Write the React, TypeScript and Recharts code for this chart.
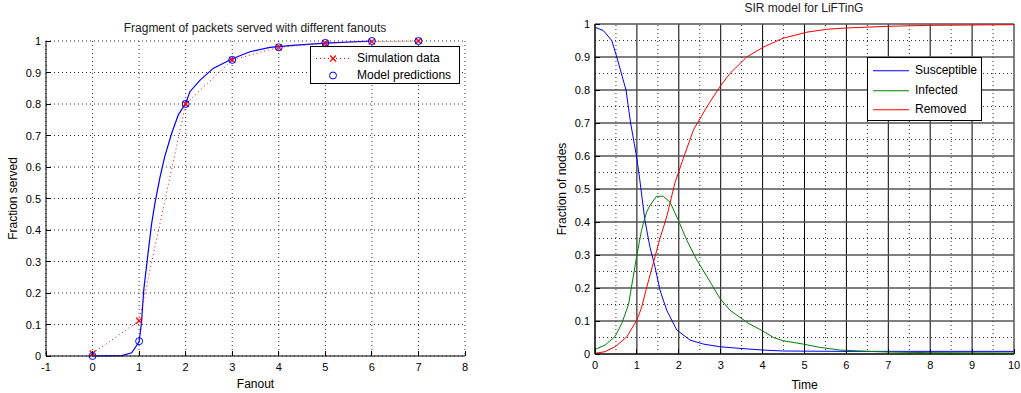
import { LineChart, Line, XAxis, YAxis, CartesianGrid, ReferenceLine, Legend } from 'recharts';

// left panel: fraction served vs fanout
const fanoutTicks = [-1, 0, 1, 2, 3, 4, 5, 6, 7, 8];
const servedTicks = [0, 0.1, 0.2, 0.3, 0.4, 0.5, 0.6, 0.7, 0.8, 0.9, 1];
const fanouts = [0, 1, 2, 3, 4, 5, 6, 7];
const simulationServed = [0.008, 0.112, 0.8, 0.94, 0.98, 0.993, 0.998, 1.0];
const modelServed = [0.0, 0.047, 0.8, 0.94, 0.98, 0.994, 1.0, 1.0];
const modelCurveFanout = [0, 0.63, 0.84, 1.0, 1.05, 1.1, 1.2, 1.27, 1.34, 1.45, 1.55, 1.7, 1.84, 2.0, 2.09, 2.31, 2.59, 2.99, 3.38, 3.81, 4.3, 5.0, 6.0];
const modelCurveServed = [0, 0.001, 0.01, 0.045, 0.104, 0.21, 0.336, 0.421, 0.485, 0.569, 0.633, 0.707, 0.765, 0.802, 0.839, 0.876, 0.913, 0.943, 0.966, 0.98, 0.986, 0.993, 1.0];

// right panel: SIR model
const timeTicks = [0, 1, 2, 3, 4, 5, 6, 7, 8, 9, 10];
const nodeTicks = [0, 0.1, 0.2, 0.3, 0.4, 0.5, 0.6, 0.7, 0.8, 0.9, 1];
const minorTimeTicks = [0.5, 1.5, 2.5, 3.5, 4.5, 5.5, 6.5, 7.5, 8.5, 9.5];
const minorNodeTicks = [0.05, 0.15, 0.25, 0.35, 0.45, 0.55, 0.65, 0.75, 0.85, 0.95];

const susceptibleTime = [0, 0.2, 0.4, 0.52, 0.74, 0.85, 0.99, 1.07, 1.19, 1.31, 1.43, 1.55, 1.71, 1.95, 2.27, 2.59, 2.98, 3.46, 4.0, 4.5, 6, 10];
const susceptible = [0.99, 0.98, 0.95, 0.9, 0.8, 0.7, 0.6, 0.527, 0.406, 0.325, 0.265, 0.194, 0.133, 0.073, 0.042, 0.03, 0.022, 0.017, 0.012, 0.009, 0.008, 0.008];
const infectedTime = [0, 0.24, 0.48, 0.64, 0.8, 1.0, 1.11, 1.23, 1.31, 1.47, 1.63, 1.79, 1.99, 2.19, 2.43, 2.67, 2.98, 3.22, 3.66, 4.0, 4.26, 4.5, 4.97, 5.37, 5.85, 6.5, 7, 8, 10];
const infected = [0.014, 0.027, 0.053, 0.093, 0.15, 0.3, 0.375, 0.43, 0.45, 0.478, 0.478, 0.46, 0.405, 0.345, 0.285, 0.235, 0.169, 0.133, 0.093, 0.07, 0.05, 0.04, 0.03, 0.02, 0.012, 0.008, 0.006, 0.004, 0.003];
const removedTime = [0, 0.24, 0.48, 0.76, 1.0, 1.11, 1.23, 1.39, 1.55, 1.71, 1.91, 2.15, 2.35, 2.67, 2.98, 3.22, 3.62, 4.02, 4.49, 5.05, 5.53, 6.0, 7, 8, 10];
const removed = [0.002, 0.007, 0.022, 0.052, 0.103, 0.14, 0.2, 0.275, 0.35, 0.415, 0.52, 0.608, 0.679, 0.749, 0.81, 0.85, 0.9, 0.93, 0.957, 0.975, 0.984, 0.988, 0.993, 0.996, 0.998];

const zip = (xs: number[], ys: number[]) => xs.map((x, i) => ({ x, y: ys[i] }));

const FONT = '"Liberation Sans", Arial, sans-serif';

const BottomTick = ({ x, y, payload }: any) => (
    <g>
        <line x1={x} y1={y} x2={x} y2={y - 5} stroke="#000" shapeRendering="crispEdges" />
        <text x={x} y={y + 15} textAnchor="middle" fontSize={11} fill="#000">{payload.value}</text>
    </g>
);
const LeftTick = ({ x, y, payload }: any) => (
    <g>
        <line x1={x} y1={y} x2={x + 5} y2={y} stroke="#000" shapeRendering="crispEdges" />
        <text x={x - 5} y={y + 4} textAnchor="end" fontSize={11} fill="#000">{payload.value}</text>
    </g>
);
const TopTick = ({ x, y }: any) => (
    <line x1={x} y1={y} x2={x} y2={y + 5} stroke="#000" shapeRendering="crispEdges" />
);
const RightTick = ({ x, y }: any) => (
    <line x1={x} y1={y} x2={x - 5} y2={y} stroke="#000" shapeRendering="crispEdges" />
);

const XMark = ({ cx, cy, color }: { cx: number; cy: number; color: string }) => (
    <g stroke={color} strokeWidth={1.2}>
        <line x1={cx - 3} y1={cy - 3} x2={cx + 3} y2={cy + 3} />
        <line x1={cx - 3} y1={cy + 3} x2={cx + 3} y2={cy - 3} />
    </g>
);

const xLabel = (text: string, dy: number) => ({
    content: ({ viewBox }: any) => (
        <text x={viewBox.x + viewBox.width / 2} y={viewBox.y + dy} textAnchor="middle" fontSize={12} fill="#000">{text}</text>
    ),
});
const yLabel = (text: string, x: number) => ({
    content: ({ viewBox }: any) => {
        const cy = viewBox.y + viewBox.height / 2;
        return (
            <text x={x} y={cy} transform={`rotate(-90 ${x} ${cy})`} textAnchor="middle" fontSize={12} fill="#000">{text}</text>
        );
    },
});

type LegendItem = { name: string; color: string; dash?: string; marker?: 'x' | 'o'; line: boolean };

const fanoutLegend: LegendItem[] = [
    { name: 'Simulation data', color: '#ff0000', dash: '1 3', marker: 'x', line: true },
    { name: 'Model predictions', color: '#0000ff', marker: 'o', line: false },
];
const sirLegend: LegendItem[] = [
    { name: 'Susceptible', color: '#0000ff', line: true },
    { name: 'Infected', color: '#008000', line: true },
    { name: 'Removed', color: '#ff0000', line: true },
];

const LegendBox = ({ items, width, height, rowH, padTop, sampleW, textX }: any) => (
    <div style={{ width, height, boxSizing: 'border-box', border: '1px solid #000', background: '#fff', paddingTop: padTop, fontFamily: FONT, fontSize: 12, color: '#000' }}>
        {items.map((it: LegendItem) => (
            <div key={it.name} style={{ display: 'flex', alignItems: 'center', height: rowH, position: 'relative' }}>
                <svg width={sampleW + 8} height={rowH} style={{ position: 'absolute', left: 5, top: 0 }}>
                    {it.line && <line x1={0} x2={sampleW} y1={rowH / 2} y2={rowH / 2} stroke={it.color} strokeDasharray={it.dash} />}
                    {it.marker === 'x' && <XMark cx={sampleW / 2} cy={rowH / 2} color={it.color} />}
                    {it.marker === 'o' && <circle cx={sampleW / 2} cy={rowH / 2} r={3.5} fill="none" stroke={it.color} />}
                </svg>
                <span style={{ position: 'absolute', left: textX, lineHeight: `${rowH}px`, top: 0 }}>{it.name}</span>
            </div>
        ))}
    </div>
);

function FanoutChart() {
    const sim = zip(fanouts, simulationServed);
    const model = zip(fanouts, modelServed);
    const curve = zip(modelCurveFanout, modelCurveServed);
    return (
        <LineChart width={480} height={393} margin={{ top: 41, right: 15, bottom: 0, left: 0 }}>
            <CartesianGrid stroke="#333" strokeDasharray="1 3" />
            <XAxis dataKey="x" type="number" domain={[-1, 8]} ticks={fanoutTicks} interval={0} height={37}
                tickSize={0} tickMargin={0} tick={<BottomTick />} axisLine={{ stroke: '#000' }} label={xLabel('Fanout', 32)} />
            <XAxis xAxisId="top" orientation="top" dataKey="x" type="number" domain={[-1, 8]} ticks={fanoutTicks} interval={0}
                height={0} tickSize={0} tickMargin={0} tick={<TopTick />} axisLine={{ stroke: '#000' }} />
            <YAxis type="number" domain={[0, 1]} ticks={servedTicks} interval={0} width={46}
                tickSize={0} tickMargin={0} tick={<LeftTick />} axisLine={{ stroke: '#000' }} label={yLabel('Fraction served', 17)} />
            <YAxis yAxisId="right" orientation="right" type="number" domain={[0, 1]} ticks={servedTicks} interval={0} width={0}
                tickSize={0} tickMargin={0} tick={<RightTick />} axisLine={{ stroke: '#000' }} />
            <Line data={curve} dataKey="y" type="linear" stroke="#0000ff" strokeWidth={1.2} dot={false} isAnimationActive={false} legendType="none" />
            <Line data={sim} dataKey="y" name="Simulation data" type="linear" stroke="#ff0000" strokeDasharray="1 3" strokeWidth={1}
                dot={(p: any) => <XMark key={`s${p.index}`} cx={p.cx} cy={p.cy} color="#ff0000" />} isAnimationActive={false} />
            <Line data={model} dataKey="y" name="Model predictions" stroke="none"
                dot={(p: any) => <circle key={`m${p.index}`} cx={p.cx} cy={p.cy} r={3.5} fill="none" stroke="#0000ff" />} isAnimationActive={false} />
            <Legend layout="vertical" align="center" verticalAlign="middle" wrapperStyle={{ left: 310, top: 46, width: 150, height: 38 }}
                content={() => <LegendBox items={fanoutLegend} width={150} height={38} rowH={17} padTop={3} sampleW={34} textX={46} />} />
            <text x={255} y={32} textAnchor="middle" fontSize={12} fill="#222">Fragment of packets served with different fanouts</text>
        </LineChart>
    );
}

function SirChart() {
    return (
        <LineChart width={481} height={393} margin={{ top: 24, right: 7, bottom: 0, left: 0 }}>
            <CartesianGrid stroke="#000" horizontal={false} />
            <CartesianGrid stroke="#555" strokeWidth={1.5} vertical={false} />
            {minorTimeTicks.map((t) => (
                <ReferenceLine key={`mx${t}`} x={t} stroke="#333" strokeDasharray="1 3" />
            ))}
            {minorNodeTicks.map((v) => (
                <ReferenceLine key={`my${v}`} y={v} stroke="#333" strokeDasharray="1 3" />
            ))}
            <XAxis dataKey="x" type="number" domain={[0, 10]} ticks={timeTicks} interval={0} height={39}
                tickSize={0} tickMargin={0} tick={<BottomTick />} axisLine={{ stroke: '#000' }} label={xLabel('Time', 35)} />
            <XAxis xAxisId="top" orientation="top" dataKey="x" type="number" domain={[0, 10]} ticks={timeTicks} interval={0}
                height={0} tickSize={0} tickMargin={0} tick={<TopTick />} axisLine={{ stroke: '#000' }} />
            <YAxis type="number" domain={[0, 1]} ticks={nodeTicks} interval={0} width={55}
                tickSize={0} tickMargin={0} tick={<LeftTick />} axisLine={{ stroke: '#000' }} label={yLabel('Fraction of nodes', 26)} />
            <YAxis yAxisId="right" orientation="right" type="number" domain={[0, 1]} ticks={nodeTicks} interval={0} width={0}
                tickSize={0} tickMargin={0} tick={<RightTick />} axisLine={{ stroke: '#000' }} />
            <Line data={zip(susceptibleTime, susceptible)} dataKey="y" name="Susceptible" type="linear" stroke="#0000ff" dot={false} isAnimationActive={false} />
            <Line data={zip(infectedTime, infected)} dataKey="y" name="Infected" type="linear" stroke="#008000" dot={false} isAnimationActive={false} />
            <Line data={zip(removedTime, removed)} dataKey="y" name="Removed" type="linear" stroke="#ff0000" dot={false} isAnimationActive={false} />
            <Legend layout="vertical" align="center" verticalAlign="middle" wrapperStyle={{ left: 327, top: 57, width: 115, height: 64 }}
                content={() => <LegendBox items={sirLegend} width={115} height={64} rowH={19.5} padTop={3} sampleW={36} textX={47} />} />
            <text x={264} y={12} textAnchor="middle" fontSize={12} fill="#222">SIR model for LiFTinG</text>
        </LineChart>
    );
}

export default function App() {
    return (
        <div style={{ position: 'absolute', left: 0, top: 0, width: 1021, height: 393, background: '#fff', fontFamily: FONT }}>
            <div style={{ position: 'absolute', left: 0, top: 0 }}>
                <FanoutChart />
            </div>
            <div style={{ position: 'absolute', left: 540, top: 0 }}>
                <SirChart />
            </div>
        </div>
    );
}
